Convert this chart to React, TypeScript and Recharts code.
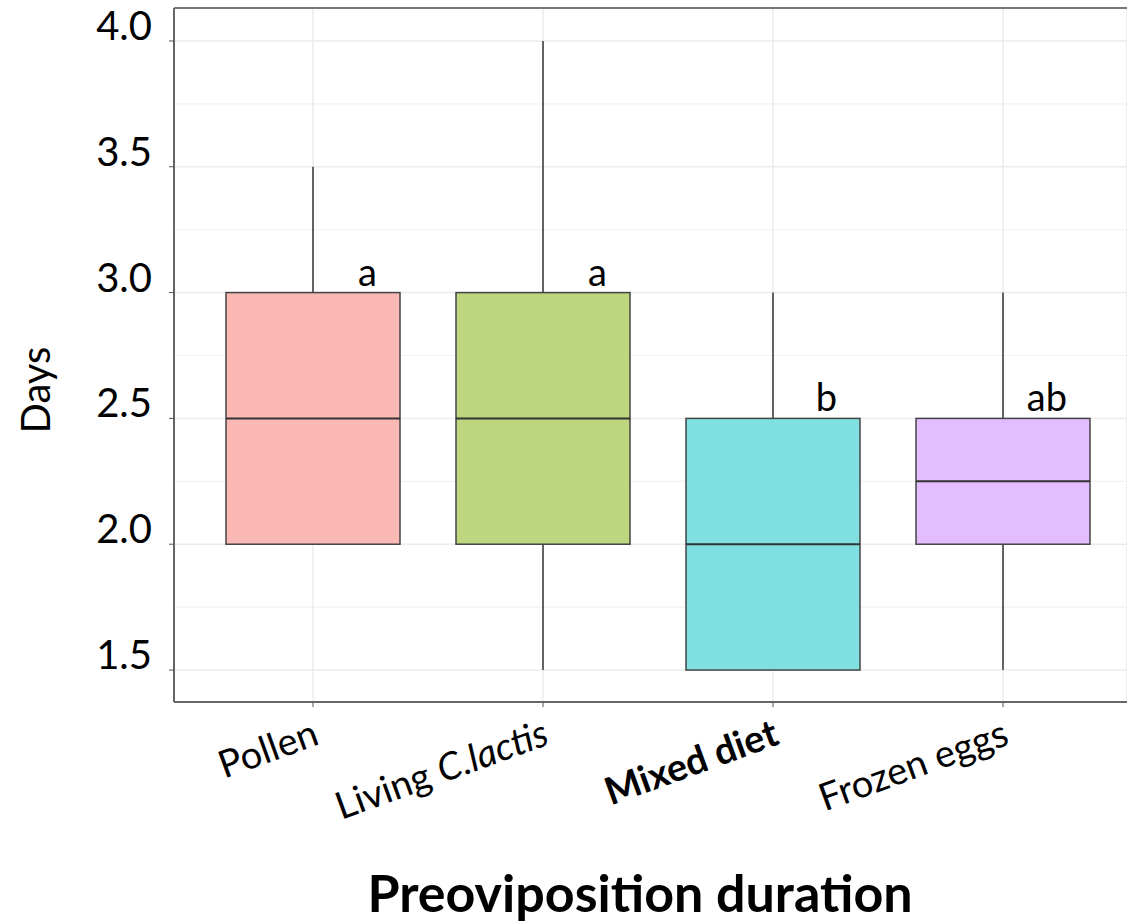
import { ComposedChart, Bar, XAxis, YAxis, CartesianGrid, ReferenceLine } from "recharts";

// five-number summaries
const diets = ["Pollen", "Living C.lactis", "Mixed diet", "Frozen eggs"];
const mins = [2.0, 1.5, 1.5, 1.5];
const q1s = [2.0, 2.0, 1.5, 2.0];
const medians = [2.5, 2.5, 2.0, 2.25];
const q3s = [3.0, 3.0, 2.5, 2.5];
const maxs = [3.5, 4.0, 3.0, 3.0];
const letters = ["a", "a", "b", "ab"];
const fills = ["#fbb9b5", "#bdd67f", "#7fdfe1", "#e3bdff"];

const yTicks = [1.5, 2.0, 2.5, 3.0, 3.5, 4.0];
const minorGrid = [1.75, 2.25, 2.75, 3.25, 3.75];
const yDomain = [1.373, 4.131];

const FONT = "Lato, 'Open Sans', sans-serif";

const data = diets.map((d, i) => ({
  diet: d,
  min: mins[i],
  q1: q1s[i],
  median: medians[i],
  q3: q3s[i],
  max: maxs[i],
  letter: letters[i],
  fill: fills[i],
}));

function BoxShape(props: any) {
  const { x, y, width, height, payload } = props;
  const top = Math.min(y, y + height);
  const h = Math.abs(height);
  const py = (v: number) => top + ((payload.max - v) / (payload.max - payload.min)) * h;
  const cx = x + width / 2;
  const yq3 = py(payload.q3);
  const yq1 = py(payload.q1);
  const ymed = py(payload.median);
  return (
    <g>
      <line x1={cx} x2={cx} y1={py(payload.max)} y2={yq3} stroke="#333" strokeWidth={1.5} />
      <line x1={cx} x2={cx} y1={yq1} y2={py(payload.min)} stroke="#333" strokeWidth={1.5} />
      <rect x={x} y={yq3} width={width} height={yq1 - yq3} fill={payload.fill} stroke="#444" strokeWidth={1.5} />
      <line x1={x} x2={x + width} y1={ymed} y2={ymed} stroke="#333" strokeWidth={2} />
      <text x={cx + 64} y={yq3 - 7} textAnchor="end" fontSize={38} fontFamily={FONT} fill="#000">
        {payload.letter}
      </text>
    </g>
  );
}

function XTick(props: any) {
  const { x, y, payload } = props;
  const v: string = payload.value;
  const ax = x - 2;
  const ay = y + 8;
  let content: any = v;
  let weight = "normal";
  if (v === "Living C.lactis") {
    content = (
      <>
        <tspan>Living </tspan>
        <tspan fontStyle="italic">C.lactis</tspan>
      </>
    );
  }
  if (v === "Mixed diet") weight = "bold";
  return (
    <text
      x={ax}
      y={ay}
      dy="0.75em"
      textAnchor="end"
      transform={`rotate(-20, ${ax}, ${ay})`}
      fontSize={38}
      fontFamily={FONT}
      fontWeight={weight}
      fill="#000"
    >
      {content}
    </text>
  );
}

function YTick(props: any) {
  const { x, y, payload } = props;
  return (
    <text x={x} y={y} dy={-1} textAnchor="end" fontSize={40} fontFamily={FONT} fill="#000">
      {Number(payload.value).toFixed(1)}
    </text>
  );
}

export default function App() {
  return (
    <div style={{ position: "absolute", left: 0, top: 0, background: "#fff" }}>
      <ComposedChart width={1127} height={923} data={data} margin={{ top: 8, right: 0, bottom: 0, left: 0 }}>
        <CartesianGrid vertical={false} horizontalValues={minorGrid} stroke="#f2f2f2" strokeWidth={1.2} />
        <CartesianGrid horizontalValues={yTicks} stroke="#ebebeb" strokeWidth={1.5} />
        <ReferenceLine y={yDomain[1]} stroke="#777" strokeWidth={2} />
        <XAxis
          dataKey="diet"
          height={221}
          padding={{ left: 24, right: 9 }}
          tick={<XTick />}
          tickLine={{ stroke: "#555" }}
          tickSize={5}
          axisLine={{ stroke: "#666", strokeWidth: 2 }}
          interval={0}
          label={(p: any) => (
            <text x={640} y={912} textAnchor="middle" fontSize={52} fontWeight="bold" fontFamily={FONT} fill="#000">
              Preoviposition duration
            </text>
          )}
        />
        <YAxis
          type="number"
          domain={yDomain}
          ticks={yTicks}
          width={174}
          allowDataOverflow
          tick={<YTick />}
          tickSize={5}
          tickMargin={17}
          tickLine={{ stroke: "#555" }}
          axisLine={{ stroke: "#666", strokeWidth: 2 }}
          label={(p: any) => (
            <text x={35} y={390} transform="rotate(-90, 35, 390)" textAnchor="middle" dominantBaseline="central" fontSize={40} fontFamily={FONT} fill="#000">
              Days
            </text>
          )}
        />
        <Bar dataKey={(d: any) => [d.min, d.max]} barSize={174} shape={<BoxShape />} isAnimationActive={false} />
      </ComposedChart>
    </div>
  );
}
